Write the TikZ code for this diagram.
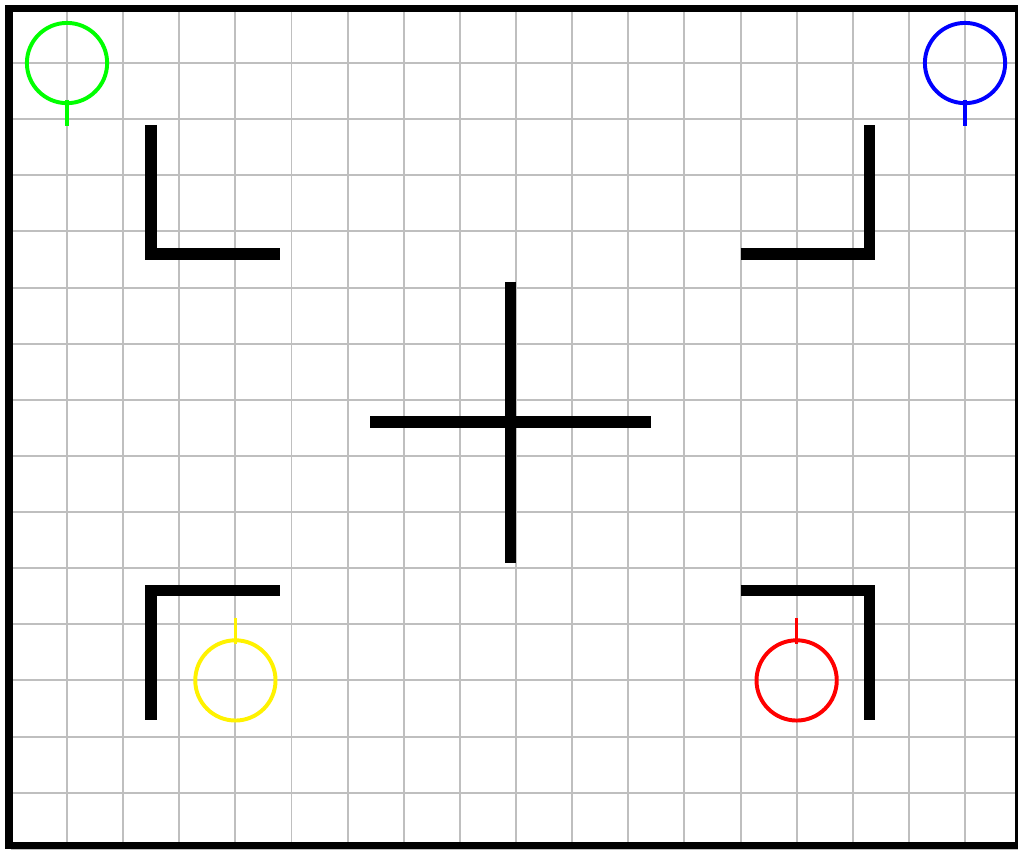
\documentclass[tikz,border=0pt]{standalone}
\usepackage{xcolor}
\usepackage{tikz}
\usetikzlibrary{positioning}

\begin{document}
\begin{tikzpicture}[
        y=-1cm,
        % Define styles for map elements
        gridline/.style={draw=gray!50, line width=0.035cm},
        mapframe/.style={draw=black, line width=0.14cm},
        wall/.style={draw=black, line width=0.205cm, line join=miter},
        robot/.style={circle, draw, line width=0.07cm, minimum size=1.43cm, inner sep=0pt},
        heading/.style={line width=0.062cm}
    ]
        \useasboundingbox (-0.194,-0.123) rectangle (17.944,15.022);

        % --------------------------------------------------------
        % Grid and outer frame
        % --------------------------------------------------------
        \foreach \x in {0,...,18} \draw[gridline] (\x,0) -- (\x,15);
        \foreach \y in {0,...,15} \draw[gridline] (0,\y) -- (18,\y);
        \draw[mapframe] (-0.035,0.028) rectangle (17.96,14.94);

        % --------------------------------------------------------
        % Walls: corner pieces and centre cross
        % --------------------------------------------------------
        \draw[wall] (2.5,2.1) -- (2.5,4.4) -- (4.8,4.4);
        \draw[wall] (13.0,4.4) -- (15.3,4.4) -- (15.3,2.1);
        \draw[wall] (2.5,12.7) -- (2.5,10.4) -- (4.8,10.4);
        \draw[wall] (13.0,10.4) -- (15.3,10.4) -- (15.3,12.7);

        \draw[wall] (8.9,4.9) -- (8.9,9.9);
        \draw[wall] (6.4,7.4) -- (11.4,7.4);

        % --------------------------------------------------------
        % Robots with heading ticks
        % --------------------------------------------------------
        \node[robot, draw=green] (robotnw) at (1,1) {};
        \draw[heading, green] (robotnw.center) ++(0,0.65) -- ++(0,0.47);

        \node[robot, draw=blue] (robotne) at (17,1) {};
        \draw[heading, blue] (robotne.center) ++(0,0.65) -- ++(0,0.47);

        \node[robot, draw=yellow] (robotsw) at (4,12) {};
        \draw[heading, yellow] (robotsw.center) ++(0,-0.65) -- ++(0,-0.47);

        \node[robot, draw=red] (robotse) at (14,12) {};
        \draw[heading, red] (robotse.center) ++(0,-0.65) -- ++(0,-0.47);

    \end{tikzpicture}
\end{document}
